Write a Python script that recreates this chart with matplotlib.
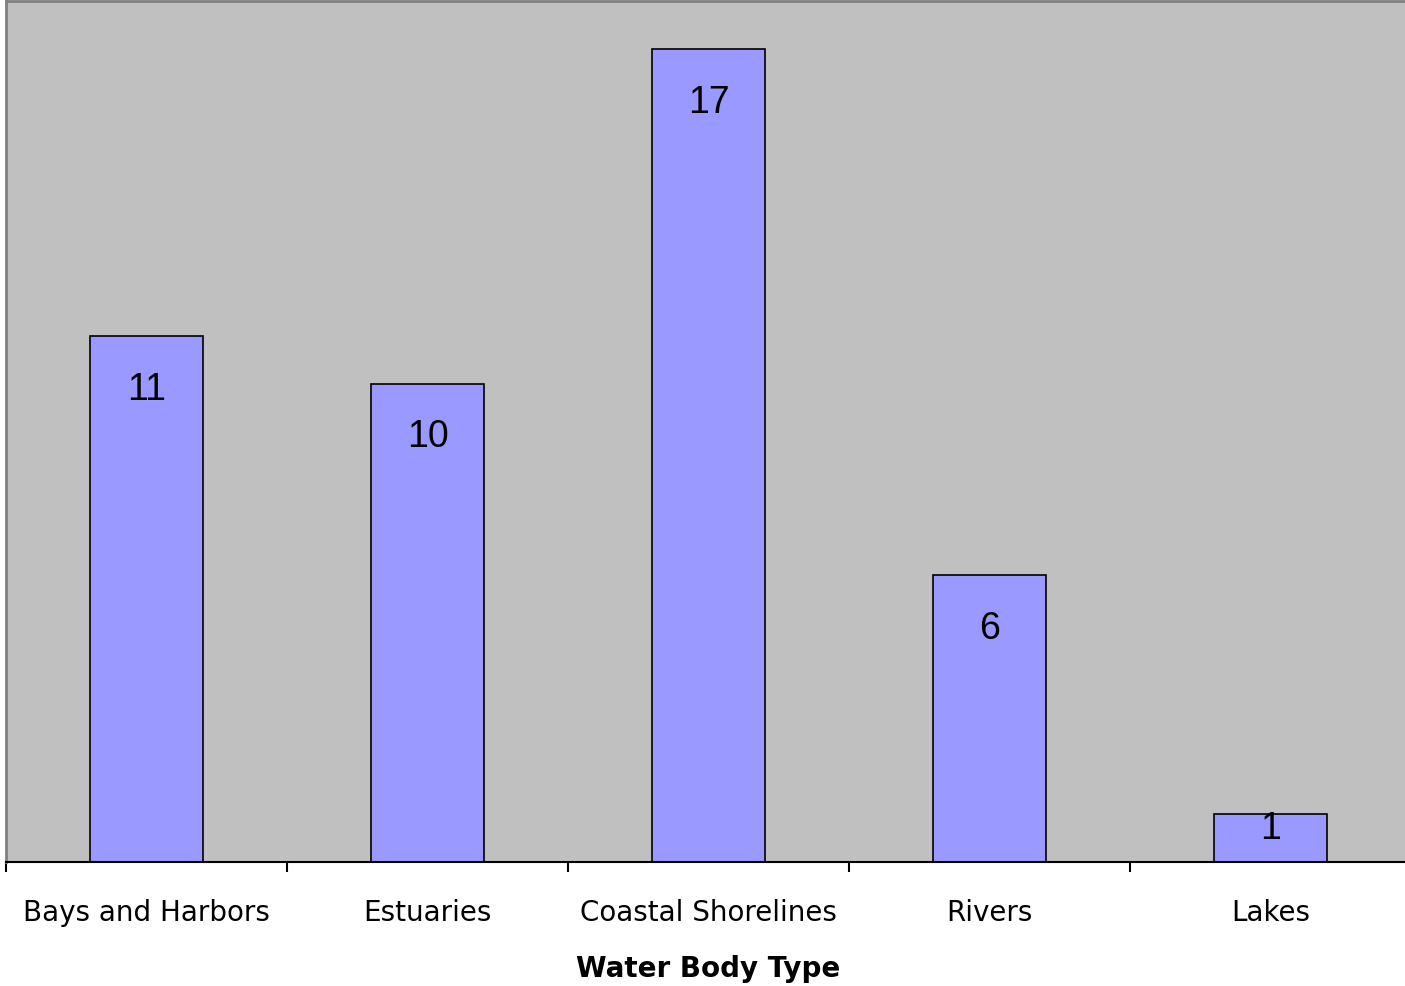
import numpy as np
import matplotlib.pyplot as plt

categories = ["Bays and Harbors", "Estuaries", "Coastal Shorelines", "Rivers", "Lakes"]
counts = [11, 10, 17, 6, 1]

fig = plt.figure(figsize=(14.05, 9.87), dpi=100)
ax = fig.add_axes([0.0043, 0.1257, 1.0, 0.8723])
ax.set_facecolor("#C0C0C0")

x = np.arange(len(categories))
bars = ax.bar(x, counts, width=0.4, color="#9999FF", edgecolor="black", linewidth=1.2, zorder=2)

ax.set_xlim(-0.5, len(categories) - 0.5)
ax.set_ylim(0, 18)

# label inside the top of each bar; short bars get the label pinned near the top edge
for b, v in zip(bars, counts):
    cx = b.get_x() + b.get_width() / 2
    if v >= 2:
        ax.annotate(str(v), (cx, v), xytext=(0, -38), textcoords="offset points",
                    ha="center", va="center", fontsize=27, family="Liberation Sans", zorder=3)
    else:
        ax.annotate(str(v), (cx, v), xytext=(0, 3), textcoords="offset points",
                    ha="center", va="top", fontsize=27, family="Liberation Sans", zorder=3)

ax.set_yticks([])
ax.set_xticks(x)
ax.set_xticklabels(categories, fontsize=20)
ax.set_xticks(np.arange(len(categories) + 1) - 0.5, minor=True)
ax.tick_params(axis="x", which="major", length=0, pad=26)
ax.tick_params(axis="x", which="minor", length=7, width=1.5, direction="out", color="black")
ax.set_xlabel("Water Body Type", fontsize=20, fontweight="bold", labelpad=20)

ax.spines["right"].set_visible(False)
ax.spines["top"].set_color("#808080")
ax.spines["left"].set_color("#808080")
ax.spines["top"].set_linewidth(2)
ax.spines["left"].set_linewidth(2)
ax.spines["bottom"].set_color("black")
ax.spines["bottom"].set_linewidth(1.5)

fig.savefig("out.png", dpi=100)
